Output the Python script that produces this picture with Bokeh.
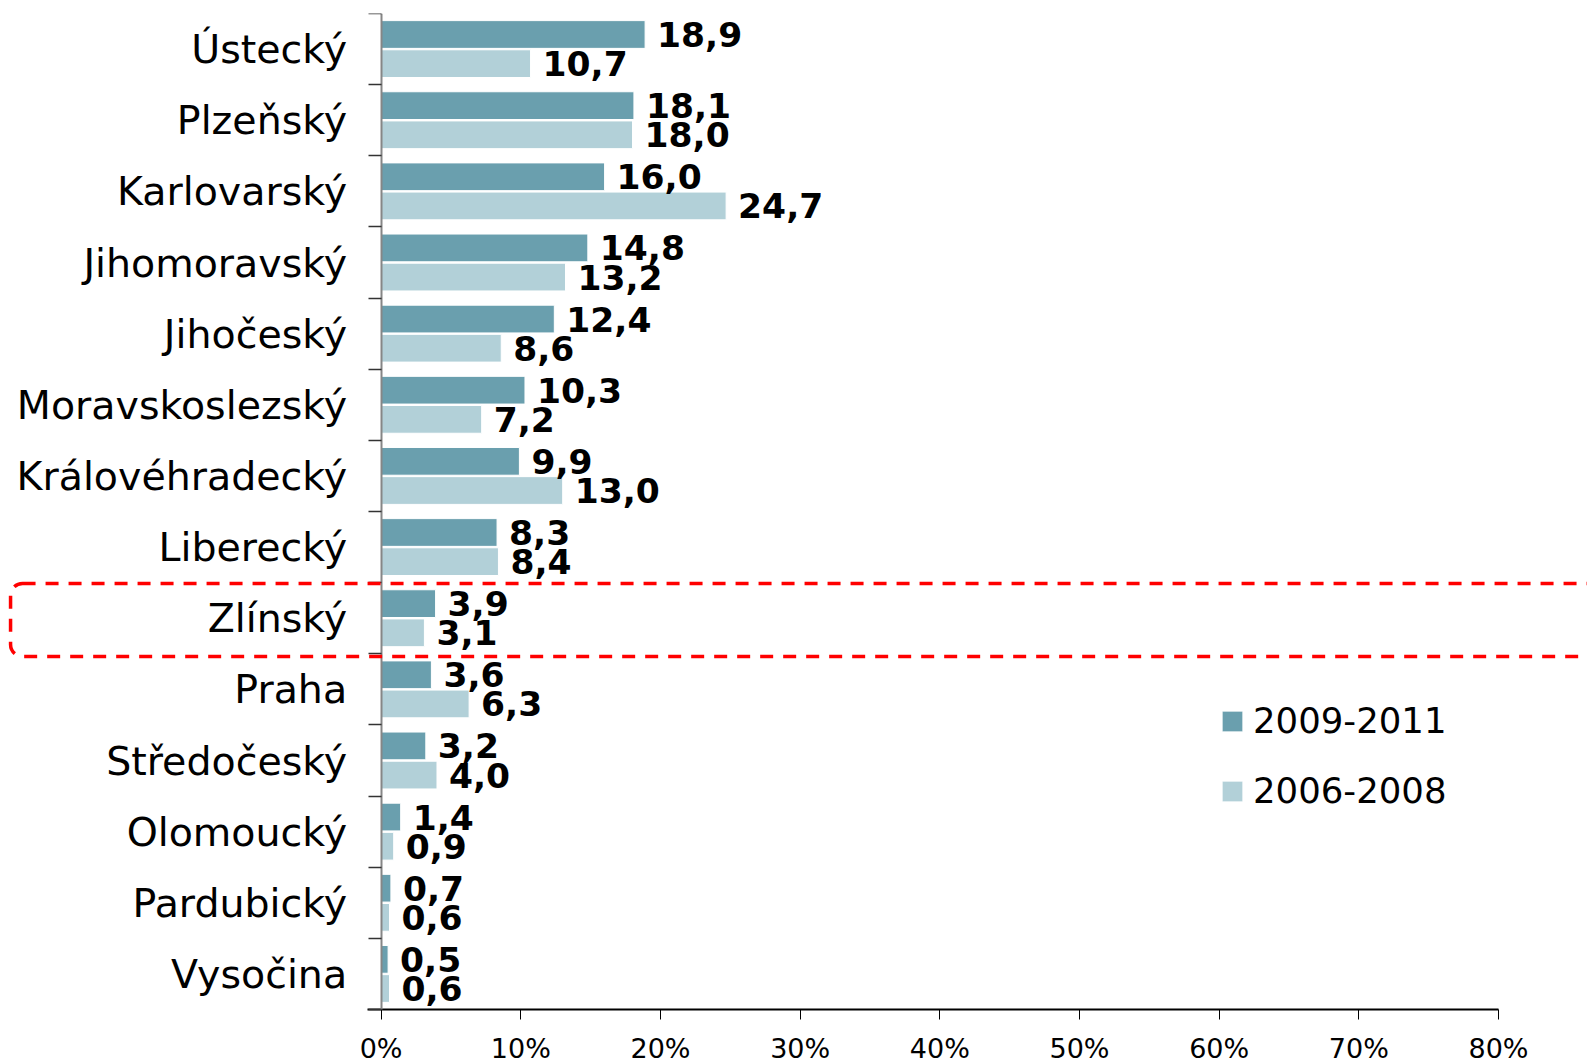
from bokeh.plotting import figure
from bokeh.models import (Range1d, FixedTicker, PrintfTickFormatter, BoxAnnotation,
                          Legend, LegendItem, ColumnDataSource, LinearAxis)
from bokeh.core.properties import value
from bokeh.embed import file_html
from bokeh.resources import INLINE

# ---- data (top to bottom) ----
regions = ["Ústecký", "Plzeňský", "Karlovarský", "Jihomoravský", "Jihočeský",
           "Moravskoslezský", "Královéhradecký", "Liberecký", "Zlínský", "Praha",
           "Středočeský", "Olomoucký", "Pardubický", "Vysočina"]
v_2009_2011 = [18.9, 18.1, 16.0, 14.8, 12.4, 10.3, 9.9, 8.3, 3.9, 3.6, 3.2, 1.4, 0.7, 0.5]
v_2006_2008 = [10.7, 18.0, 24.7, 13.2, 8.6, 7.2, 13.0, 8.4, 3.1, 6.3, 4.0, 0.9, 0.6, 0.6]
series_names = ["2009-2011", "2006-2008"]
x_ticks = [0, 10, 20, 30, 40, 50, 60, 70, 80]
highlight = "Zlínský"

DARK = "#6A9FAE"
LIGHT = "#B2D0D8"
FONT = "DejaVu Sans"

n = len(regions)
centers = [n - 0.5 - i for i in range(n)]
off = 0.205
bh = 0.39

def fmt(v):
    return f"{v:.1f}".replace(".", ",")

src_a = ColumnDataSource(dict(y=[c + off for c in centers], v=v_2009_2011,
                              t=[fmt(v) for v in v_2009_2011]))
src_b = ColumnDataSource(dict(y=[c - off for c in centers], v=v_2006_2008,
                              t=[fmt(v) for v in v_2006_2008]))

p = figure(width=1587, height=1063, output_backend="svg", toolbar_location=None,
           x_range=Range1d(-27.25, 86.37), y_range=Range1d(-0.759, n),
           x_axis_location=None, y_axis_location=None)
p.min_border_left = 0
p.min_border_right = 0
p.min_border_top = 13
p.min_border_bottom = 0
p.outline_line_color = None
p.xgrid.visible = False
p.ygrid.visible = False
p.background_fill_color = "white"
p.border_fill_color = "white"

ra = p.hbar(y="y", left=0, right="v", height=bh, source=src_a, fill_color=DARK,
            line_color="white", line_width=1)
rb = p.hbar(y="y", left=0, right="v", height=bh, source=src_b, fill_color=LIGHT,
            line_color="white", line_width=1)

for s in (src_a, src_b):
    p.text(x="v", y="y", text="t", source=s, x_offset=12, text_align="left",
           text_baseline="middle", text_font=value(FONT), text_font_style="bold",
           text_font_size="34.5px", text_color="black")

# x axis (drawn at y = 0)
xa = LinearAxis(fixed_location=0)
xa.ticker = FixedTicker(ticks=x_ticks)
xa.formatter = PrintfTickFormatter(format="%d%%")
xa.bounds = (-0.95, 80)
xa.axis_line_color = "black"
xa.axis_line_width = 2
xa.major_tick_line_color = "black"
xa.major_tick_line_width = 1
xa.major_tick_out = 10
xa.major_tick_in = 0
xa.minor_tick_line_color = None
xa.major_label_standoff = 13
xa.major_label_text_font = FONT
xa.major_label_text_font_size = "27px"
xa.major_label_text_color = "black"
p.add_layout(xa, "below")

# y axis (drawn at x = 0)
ya = LinearAxis(fixed_location=0)
ya.ticker = FixedTicker(ticks=centers, minor_ticks=list(range(0, n + 1)))
ya.major_label_overrides = {c: r for c, r in zip(centers, regions)}
ya.bounds = (0, n)
ya.axis_line_color = "#868686"
ya.axis_line_width = 2
ya.major_tick_line_color = None
ya.major_tick_out = 0
ya.major_tick_in = 0
ya.minor_tick_line_color = "#333333"
ya.minor_tick_line_width = 1.5
ya.minor_tick_out = 13
ya.minor_tick_in = 0
ya.major_label_standoff = 21
ya.major_label_text_font = FONT
ya.major_label_text_font_size = "39.5px"
ya.major_label_text_color = "black"
p.add_layout(ya, "left")

# highlight box
hi = regions.index(highlight)
box = BoxAnnotation(left=-26.53, right=92, bottom=centers[hi] - 0.537, top=centers[hi] + 0.489,
                    fill_alpha=0, line_color="#FF0000", line_alpha=1, line_width=3.5,
                    line_dash="13 10", border_radius=12)
p.add_layout(box)

legend = Legend(items=[LegendItem(label=series_names[0], renderers=[ra]),
                       LegendItem(label=series_names[1], renderers=[rb])],
                location=(1219, 252), orientation="vertical")
legend.padding = 0
legend.margin = 0
legend.spacing = 29
legend.glyph_width = 26
legend.glyph_height = 26
legend.label_standoff = 8
legend.label_text_font = FONT
legend.label_text_font_size = "35.5px"
legend.label_text_color = "black"
legend.border_line_color = None
legend.background_fill_alpha = 0
p.add_layout(legend)

open("out.html", "w").write(file_html(p, INLINE))
